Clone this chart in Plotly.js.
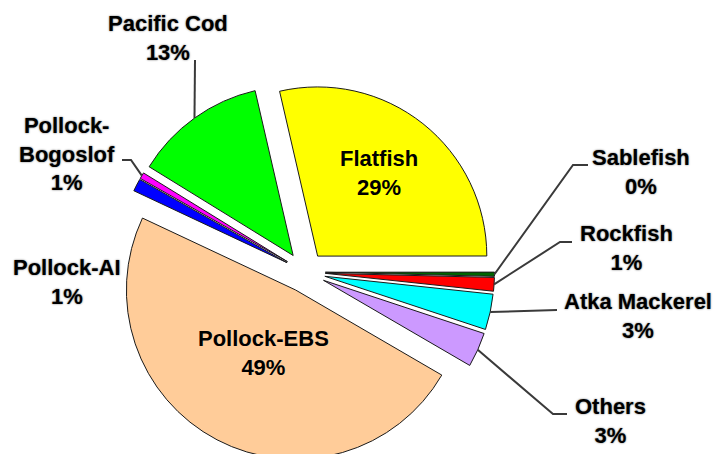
<!DOCTYPE html>
<html>
<head>
<meta charset="utf-8">
<script src="https://cdn.plot.ly/plotly-3.0.1.min.js"></script>
<style>
html,body{margin:0;padding:0;overflow:hidden;background:#fff;width:718px;height:454px;}
#chart{width:718px;height:544px;}
</style>
</head>
<body>
<div id="chart"></div>
<script>
// ---- data ----
const categories = ['Flatfish', 'Sablefish', 'Rockfish', 'Atka Mackerel', 'Others', 'Pollock-EBS', 'Pollock-AI', 'Pollock-Bogoslof', 'Pacific Cod'];
const shares = [28.6, 0.4, 1.3, 3.4, 3.3, 48.6, 1.2, 0.6, 12.6];
const labelLines = ['Flatfish', 'Sablefish', 'Rockfish', 'Atka Mackerel', 'Others', 'Pollock-EBS', 'Pollock-AI', 'Pollock-<br>Bogoslof', 'Pacific Cod'];
const sliceColors = ['#FFFF00', '#006400', '#FF0000', '#00FFFF', '#CC99FF', '#FFCC99', '#0000FF', '#FF00FF', '#00FF00'];

// ---- layout constants ----
const W = 718, H = 544;
const domX = [0.1609, 0.6887], domY = [0, 1];
const PULL = 0.12;
const ROT = -13;
// label centres (px) and whether inside the slice
const labelPos = [[379,173],[641,172],[626,248],[638,316],[610,421],[263,353],[67,282],[67,154],[168,38]];
const inside = [true,false,false,false,false,true,false,false,false];
// leader line label-side points (px), null = no leader
const leaderEnds = [null, [[588,165],[573,165]], [[572,242],[560,242]], [[557,310]], [[567,414],[553,414]], null, null, [[122,160],[131,160]], [[195,60]]];

const total = shares.reduce((a,b)=>a+b,0);
const pcts = shares.map(v => Math.round(v/total*100));

// geometry as Plotly computes it
const boxW = W*(domX[1]-domX[0]), boxH = H*(domY[1]-domY[0]);
const r = Math.min(boxW, boxH)/(2+2*PULL);
const cx = W*(domX[0]+domX[1])/2;
const cy = H*(1-domY[0]) - boxH/2;
let acc = 0;
const mids = shares.map(v => { const m = ROT + (acc + v/2)/total*360; acc += v; return m; });
const anchors = mids.map(a => { const rad = a*Math.PI/180; const R = r*(1+PULL); return [cx + R*Math.sin(rad), cy - R*Math.cos(rad)]; });

const px2x = x => x/W, px2y = y => 1 - y/H;

const annotations = categories.map((c,i) => ({
  xref:'paper', yref:'paper', x: px2x(labelPos[i][0]), y: px2y(labelPos[i][1]),
  xanchor:'center', yanchor:'middle', showarrow:false, align:'center',
  text: labelLines[i] + '<br>' + pcts[i] + '%',
  font: inside[i]
    ? {family:'Liberation Sans, Arial, sans-serif', size:22, color:'#000', weight:'bold'}
    : {family:'Liberation Sans, Arial, sans-serif', size:22, color:'#000', weight:'bold', shadow:'0px 0px 2px #666'}
}));

const shapes = [];
leaderEnds.forEach((pts,i) => {
  if(!pts) return;
  const all = pts.concat([anchors[i]]);
  const d = all.map((p,k) => (k? 'L':'M') + px2x(p[0]) + ',' + px2y(p[1])).join(' ');
  shapes.push({type:'path', xref:'paper', yref:'paper', path:d, line:{color:'#3a3a3a', width:2}});
});

const trace = {
  type:'pie', labels:categories, values:shares, sort:false, direction:'clockwise',
  rotation:ROT, pull:categories.map(()=>PULL),
  marker:{colors:sliceColors, line:{color:'#1a1a1a', width:1}},
  textinfo:'none', hoverinfo:'label+percent',
  domain:{x:domX, y:domY}
};

Plotly.newPlot('chart', [trace], {
  width:W, height:H, margin:{l:0,r:0,t:0,b:0}, showlegend:false,
  paper_bgcolor:'#fff', annotations:annotations, shapes:shapes
}, {displayModeBar:false, staticPlot:true});
</script>
</body>
</html>
